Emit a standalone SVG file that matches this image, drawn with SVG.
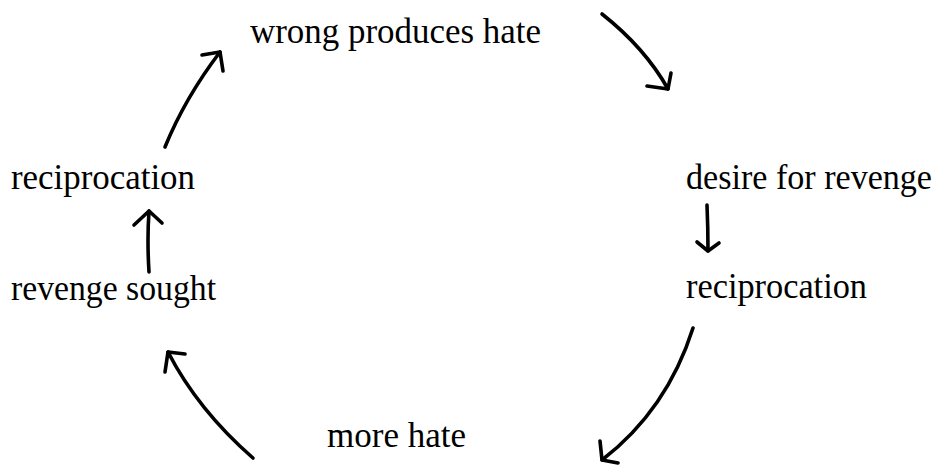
<svg xmlns="http://www.w3.org/2000/svg" width="937" height="465" viewBox="0 0 937 465">
<style>
.t{font-family:"Liberation Serif","Times New Roman",serif;font-size:35px;fill:#000}
.c{fill:none;stroke:#000;stroke-width:3.6;stroke-linecap:round;stroke-linejoin:round}
</style>
<rect width="937" height="465" fill="#fff"/>
<g id="n1"><text class="t" x="250" y="43" textLength="291" lengthAdjust="spacingAndGlyphs">wrong produces hate</text></g>
<g id="n2"><text class="t" x="686" y="189" textLength="246" lengthAdjust="spacingAndGlyphs">desire for revenge</text></g>
<g id="n3"><text class="t" x="686" y="298" textLength="181" lengthAdjust="spacingAndGlyphs">reciprocation</text></g>
<g id="n4"><text class="t" x="327" y="447" textLength="139" lengthAdjust="spacingAndGlyphs">more hate</text></g>
<g id="n5"><text class="t" x="11" y="300" textLength="205" lengthAdjust="spacingAndGlyphs">revenge sought</text></g>
<g id="n6"><text class="t" x="11" y="189" textLength="184" lengthAdjust="spacingAndGlyphs">reciprocation</text></g>
<g id="connectors">
<path class="c" d="M165,147 Q185,98 220,52"/>
<path class="c" d="M202,55 L220,52 L223,71"/>
<path class="c" d="M602,14 Q645,48 668,89"/>
<path class="c" d="M647,86 L668,89 L671,73"/>
<path class="c" d="M707,205 Q708,228 708,251"/>
<path class="c" d="M697,242 L708,251 L719,243"/>
<path class="c" d="M693,328 Q667,410 602,460"/>
<path class="c" d="M600,441 L602,460 L618,463"/>
<path class="c" d="M253,458 Q198,410 168,352"/>
<path class="c" d="M165,372 L168,352 L185,354"/>
<path class="c" d="M149,272 Q147,240 149,211"/>
<path class="c" d="M134,225 L149,211 L162,223"/>
</g>
</svg>
